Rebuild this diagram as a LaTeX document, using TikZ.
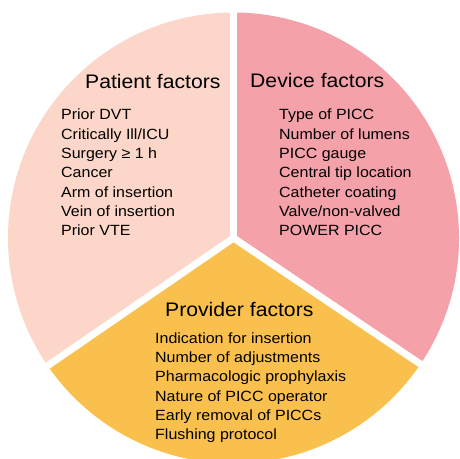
\documentclass[tikz,border=0pt]{standalone}
\usepackage{fontspec}
\setmainfont{Liberation Sans}[FakeStretch=1.08]
\usepackage{tikz}
\usetikzlibrary{calc, positioning}

\definecolor{patientcol}{HTML}{FCD6C8}
\definecolor{devicecol}{HTML}{F4A1AA}
\definecolor{providercol}{HTML}{FAC04E}

\begin{document}
\begin{tikzpicture}[x=1pt, y=1pt,
        title/.style={anchor=base west, inner sep=0pt, font=\fontsize{19.6}{23}\selectfont},
        item/.style={anchor=base west, inner sep=0pt, font=\fontsize{14.8}{17}\selectfont},
        gap/.style={white, line width=7pt}]
    \useasboundingbox (0,0) rectangle (460,458);
    \clip (0,0) rectangle (460,458);

    % pie
    \coordinate (c) at (233.5,220);
    \fill[patientcol] (c) -- ++(90:225.5pt) arc[start angle=90, end angle=214.5, radius=225.5pt] -- cycle;
    \fill[devicecol] (c) -- ++(-34:225.5pt) arc[start angle=-34, end angle=90, radius=225.5pt] -- cycle;
    \fill[providercol] (c) -- ++(214.5:225.5pt) arc[start angle=214.5, end angle=326, radius=225.5pt] -- cycle;
    \coordinate (gtop) at ($(c)+(90:240pt)$);
    \coordinate (gleft) at ($(c)+(214.5:240pt)$);
    \coordinate (gright) at ($(c)+(-34:240pt)$);
    \draw[gap] (c) -- (gtop);
    \draw[gap] (c) -- (gleft);
    \draw[gap] (c) -- (gright);

    % titles
    \node[title] (patient) at (85,369.7) {Patient factors};
    \node[title] (device) at (250,370) {Device factors};
    \node[title] (provider) at (165,141.3) {Provider factors};

    % lists
    \foreach \t [count=\i] in {Prior DVT, Critically Ill/ICU, Surgery ≥ 1 h, Cancer, Arm of insertion, Vein of insertion, Prior VTE}
        \node[item] (pat\i) at (61,{338-(\i-1)*19.3}) {\t};
    \foreach \t [count=\i] in {Type of PICC, Number of lumens, PICC gauge, Central tip location, Catheter coating, Valve/non-valved, POWER PICC}
        \node[item] (dev\i) at (279,{338-(\i-1)*19.3}) {\t};
    \foreach \t [count=\i] in {Indication for insertion, Number of adjustments, Pharmacologic prophylaxis, Nature of PICC operator, Early removal of PICCs, Flushing protocol}
        \node[item] (prov\i) at (155,{114.7-(\i-1)*19.3}) {\t};
\end{tikzpicture}
\end{document}
